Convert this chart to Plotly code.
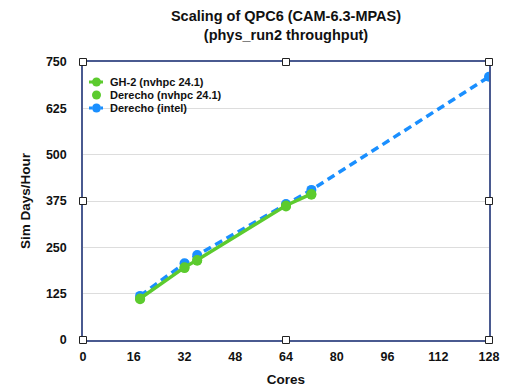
import plotly.graph_objects as go

cores_gh2 = [18, 32, 36, 64, 72]
gh2_vals = [112, 196, 216, 363, 394]
cores_der_nv = [18, 32, 36, 64, 72]
der_nv_vals = [110, 194, 214, 360, 392]
cores_der_intel = [18, 32, 36, 64, 72, 128]
der_intel_vals = [119, 207, 229, 367, 405, 710]

series_names = ["GH-2 (nvhpc 24.1)", "Derecho (nvhpc 24.1)", "Derecho (intel)"]

x_ticks = [0, 16, 32, 48, 64, 80, 96, 112, 128]
y_ticks = [0, 125, 250, 375, 500, 625, 750]

GREEN = "#5ccb2e"
BLUE = "#1a8fff"
FRAME = "#4a5a90"
FONT = "Liberation Sans, Arial, sans-serif"

W, H = 508, 387
L, R, T, B = 83, 19, 62, 47
PW, PH = W - L - R, H - T - B


def px_to_paper(px, py):
    return (px - L) / PW, (H - B - py) / PH


fig = go.Figure()
fig.add_trace(go.Scatter(
    x=cores_der_intel, y=der_intel_vals, name=series_names[2],
    mode="lines+markers", line=dict(color=BLUE, width=3.5, dash="8px,5px"),
    marker=dict(color=BLUE, size=10)))
fig.add_trace(go.Scatter(
    x=cores_der_nv, y=der_nv_vals, name=series_names[1],
    mode="markers", marker=dict(color=GREEN, size=10)))
fig.add_trace(go.Scatter(
    x=cores_gh2, y=gh2_vals, name=series_names[0],
    mode="lines+markers", line=dict(color=GREEN, width=3.5),
    marker=dict(color=GREEN, size=10)))

shapes = []
annotations = []

# compact legend drawn in paper coordinates
leg_rows = [(82, GREEN, "solid", True), (95, GREEN, None, False), (108, BLUE, "dot", True)]
for name, (py, col, dash, has_line) in zip(series_names, leg_rows):
    if has_line:
        x0, y0 = px_to_paper(89, py)
        x1, _ = px_to_paper(103, py)
        shapes.append(dict(type="line", xref="paper", yref="paper", x0=x0, x1=x1, y0=y0, y1=y0,
                           line=dict(color=col, width=3, dash=dash), layer="above"))
    cx0, cy0 = px_to_paper(92, py - 4.5)
    cx1, cy1 = px_to_paper(101, py + 4.5)
    shapes.append(dict(type="circle", xref="paper", yref="paper", x0=cx0, x1=cx1, y0=cy1, y1=cy0,
                       line=dict(color=col, width=0), fillcolor=col, layer="above"))
    tx, ty = px_to_paper(108, py)
    annotations.append(dict(text=f"<b>{name}</b>", xref="paper", yref="paper", x=tx, y=ty,
                            xanchor="left", yanchor="middle", showarrow=False,
                            font=dict(size=11, family=FONT, color="#111111")))

# selection-handle style squares on the frame
hs = 3.5
for (fx, fy) in [(0, 0), (0.5, 0), (1, 0), (0, 0.5), (1, 0.5), (0, 1), (0.5, 1), (1, 1)]:
    shapes.append(dict(type="rect", xref="paper", yref="paper",
                       x0=fx - hs / PW, x1=fx + hs / PW,
                       y0=fy - hs / PH, y1=fy + hs / PH,
                       line=dict(color="#222222", width=1), fillcolor="white",
                       layer="above"))

fig.update_layout(
    width=W, height=H,
    margin=dict(l=L, r=R, t=T, b=B, autoexpand=False),
    paper_bgcolor="white", plot_bgcolor="white",
    font=dict(family=FONT, color="#111111", size=12),
    title=dict(text="<b>Scaling of QPC6 (CAM-6.3-MPAS)<br>(phys_run2 throughput)</b>",
               xref="paper", x=0.5, xanchor="center",
               yref="container", y=1 - 21 / H, yanchor="middle",
               font=dict(size=14.5, family=FONT, color="#111111")),
    showlegend=False,
    xaxis=dict(range=[0, 128], tickvals=x_ticks, ticktext=[f"<b>{v}</b>" for v in x_ticks],
               showgrid=False, zeroline=False, showline=True, linecolor=FRAME, linewidth=1.5,
               mirror=True, ticks="", tickfont=dict(size=12.5), automargin=False,
               ticklabelstandoff=4,
               title=dict(text="<b>Cores</b>", font=dict(size=13.5), standoff=12)),
    yaxis=dict(range=[0, 750], tickvals=y_ticks, ticktext=[f"<b>{v}</b>" for v in y_ticks],
               showgrid=True, gridcolor="#dddddd", gridwidth=1, zeroline=False,
               showline=True, linecolor=FRAME, linewidth=1.5, mirror=True, ticks="",
               tickfont=dict(size=12.5), ticklabelstandoff=12, automargin=False,
               title=dict(text="<b>Sim Days/Hour</b>", font=dict(size=13.5), standoff=12)),
    shapes=shapes,
    annotations=annotations,
)

fig.write_html("out.html", config={"displayModeBar": False},
               post_script="document.body.style.margin='0';document.body.style.overflow='hidden';")
